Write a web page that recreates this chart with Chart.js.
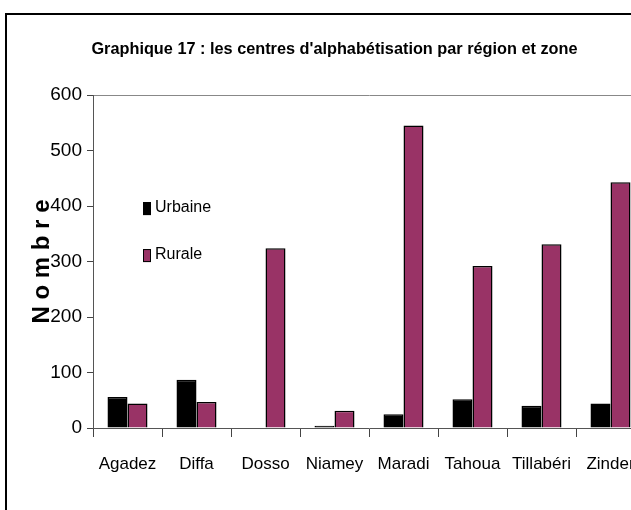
<!DOCTYPE html>
<html>
<head>
<meta charset="utf-8">
<script src="https://cdn.jsdelivr.net/npm/chart.js@4.4.0/dist/chart.umd.min.js"></script>
<style>
  html, body { margin: 0; padding: 0; background: #fff; overflow: hidden; }
  #wrap { position: relative; width: 631px; height: 510px; overflow: hidden; }
  canvas { position: absolute; left: 0; top: 0; }
</style>
</head>
<body>
<div id="wrap"><canvas id="chart" width="669" height="510"></canvas></div>
<script>
const regions = ['Agadez', 'Diffa', 'Dosso', 'Niamey', 'Maradi', 'Tahoua', 'Tillabéri', 'Zinder'];
const urbaine = [56, 87, 0, 4, 25, 52, 40, 44];
const rurale = [44, 47, 324, 31, 545, 292, 331, 443];
const yMin = 0, yMax = 600, yStep = 100;

const sans = '"Liberation Sans", Arial, sans-serif';

// black frame of the original graphic (only left and top are visible)
const frame = {
    id: 'frame',
    beforeDraw(chart) {
        const ctx = chart.ctx;
        ctx.save();
        ctx.fillStyle = '#fff';
        ctx.fillRect(0, 0, chart.width, chart.height);
        ctx.strokeStyle = '#000';
        ctx.lineWidth = 2;
        ctx.beginPath();
        ctx.moveTo(6, chart.height + 2);
        ctx.lineTo(6, 14);
        ctx.lineTo(chart.width + 2, 14);
        ctx.stroke();
        ctx.restore();
    }
};

// legend drawn inside the plot area
const insideLegend = {
    id: 'insideLegend',
    afterDatasetsDraw(chart, args, opts) {
        const { ctx, chartArea } = chart;
        ctx.save();
        ctx.font = opts.font;
        ctx.textBaseline = 'middle';
        chart.data.datasets.forEach((ds, i) => {
            const x = chartArea.left + opts.x;
            const y = chartArea.top + opts.y + i * opts.gap;
            ctx.fillStyle = ds.backgroundColor;
            ctx.fillRect(x, y - 6, 8, 13);
            ctx.strokeStyle = '#000';
            ctx.lineWidth = 1;
            ctx.strokeRect(x + 0.5, y - 5.5, 7, 12);
            ctx.fillStyle = '#000';
            ctx.fillText(ds.label, x + 12, y);
        });
        ctx.restore();
    }
};

new Chart(document.getElementById('chart'), {
    type: 'bar',
    data: {
        labels: regions,
        datasets: [
            { label: 'Urbaine', data: urbaine, backgroundColor: '#000000', borderColor: '#000', borderWidth: 1.5 },
            { label: 'Rurale', data: rurale, backgroundColor: '#993366', borderColor: '#000', borderWidth: 1.5 }
        ]
    },
    options: {
        responsive: false,
        animation: false,
        layout: { padding: { left: 24, right: 24, top: 0, bottom: 0 } },
        datasets: { bar: { categoryPercentage: 0.58, barPercentage: 1.0 } },
        plugins: {
            legend: { display: false },
            tooltip: { enabled: false },
            title: {
                display: true,
                text: "Graphique 17 : les centres d'alphabétisation par région et zone",
                color: '#000',
                font: { family: sans, size: 16.3, weight: 'bold' },
                padding: { top: 40, bottom: 35.5 }
            },
            insideLegend: { x: 50, y: 113, gap: 47, font: '16px ' + sans }
        },
        scales: {
            x: {
                afterFit: (scale) => { scale.height = 82; },
                grid: { offset: true, drawOnChartArea: false, tickLength: 9, color: '#444', tickColor: '#444' },
                border: { display: true, color: '#555', width: 1 },
                ticks: { color: '#000', padding: 17, font: { family: sans, size: 17 }, maxRotation: 0, autoSkip: false }
            },
            y: {
                min: yMin,
                max: yMax,
                afterFit: (scale) => { scale.width = 69; },
                grid: {
                    color: (c) => (c.tick && c.tick.value === yMax ? '#888' : 'rgba(0,0,0,0)'),
                    tickColor: '#444',
                    tickLength: 6
                },
                border: { display: true, color: '#555', width: 1 },
                ticks: { stepSize: yStep, color: '#000', padding: 5, font: { family: sans, size: 19 } },
                title: {
                    display: true,
                    text: 'N o m b r e',
                    color: '#000',
                    font: { family: sans, size: 24, weight: 'bold' },
                    padding: { top: 4, bottom: 0 }
                }
            }
        }
    },
    plugins: [frame, insideLegend]
});
</script>
</body>
</html>
